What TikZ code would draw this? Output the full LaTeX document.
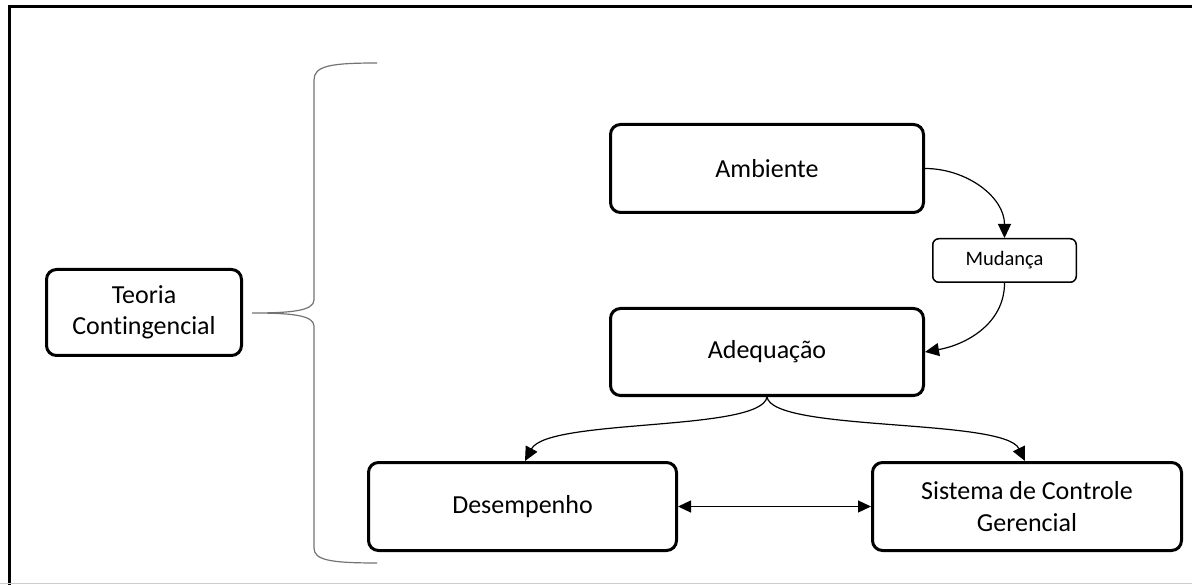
\documentclass[tikz,border=0pt]{standalone}
\usepackage{fontspec}
\setmainfont{Carlito}[Ligatures={NoCommon}]
\usetikzlibrary{arrows.meta}
\begin{document}
\begin{tikzpicture}[x=1pt,y=-1pt,
  bigbox/.style={draw=black, line width=3pt, rounded corners=10pt, align=center,
    font=\fontsize{26}{31.5}\selectfont, inner sep=0pt},
  smallbox/.style={draw=black, line width=1.5pt, rounded corners=6pt, align=center,
    font=\fontsize{20.5}{24}\selectfont, inner sep=0pt},
  conn/.style={draw=black, line width=1.2pt, -{Triangle[length=14pt,width=13pt]}},
  dconn/.style={draw=black, line width=1.2pt, {Triangle[length=13pt,width=12pt]}-{Triangle[length=13pt,width=12pt]}},
  bracestyle/.style={draw=black!55, line width=1.2pt}
]
\useasboundingbox (0,0) rectangle (1192,585);
% frame
\draw[line width=3.5pt] (9.5,585) -- (9.5,6.5) -- (1192,6.5);
\draw[black!20, line width=1pt] (0,583.5) -- (1192,583.5);

% nodes
\node[bigbox, minimum width=195pt, minimum height=86pt] (teoria) at (144,312.5) {Teoria\\Contingencial};
\node[bigbox, minimum width=313pt, minimum height=88pt] (amb) at (767,168.5) {Ambiente};
\node[smallbox, minimum width=143.5pt, minimum height=43.5pt] (mud) at (1004.5,260.5) {Mudança};
\node[bigbox, minimum width=313pt, minimum height=87pt] (adeq) at (767,352) {Adequação};
\node[bigbox, minimum width=308pt, minimum height=88pt] (des) at (522.5,506.5) {Desempenho};
\node[bigbox, minimum width=309pt, minimum height=88pt] (sis) at (1027,506.5) {Sistema de Controle\\Gerencial};

% brace
\coordinate (btip) at (252,313);
\draw[bracestyle] (377,63) .. controls (330,63) and (314,66) .. (314,80) -- (314,300)
   .. controls (314,311) and (290,313) .. (btip)
   .. controls (290,313) and (314,315) .. (314,326) -- (314,548)
   .. controls (314,560) and (330,563) .. (377,563);

% connectors
\draw[conn] (amb.east) to[out=0,in=90] (mud.north);
\draw[conn] (mud.south) to[out=-90,in=10] (adeq.east);
\draw[conn] (adeq.south) .. controls (761,432) and (548,418) .. ([xshift=2.5pt]des.north);
\draw[conn] (adeq.south) .. controls (773,432) and (1004,418) .. ([xshift=-2pt]sis.north);
\draw[dconn] (des.east) -- (sis.west);
\end{tikzpicture}
\end{document}
